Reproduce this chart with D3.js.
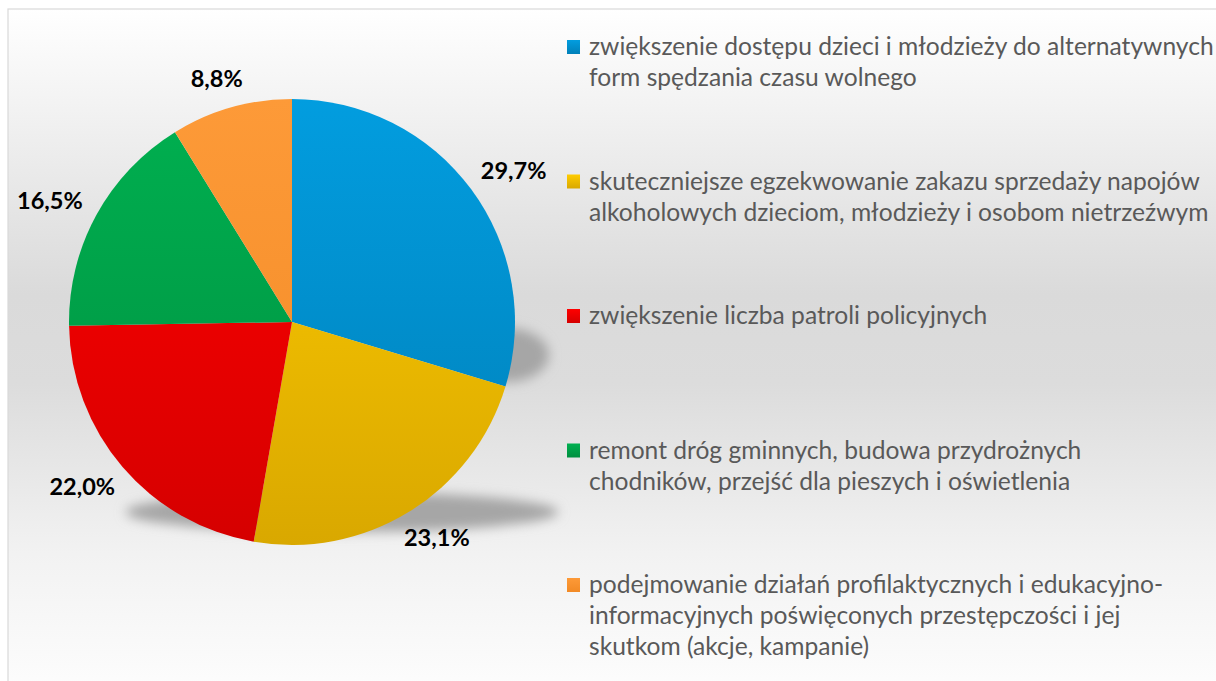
<!DOCTYPE html>
<html>
<head>
<meta charset="utf-8">
<script src="https://cdn.jsdelivr.net/npm/d3@7"></script>
<style>
  html, body { margin: 0; padding: 0; background: #ffffff; }
  svg { display: block; }
</style>
</head>
<body>
<svg id="chart" width="1216" height="681"></svg>
<script>
// Survey answers: share of responses per proposed measure
const categories = [
  ["zwiększenie dostępu dzieci i młodzieży do alternatywnych", "form spędzania czasu wolnego"],
  ["skuteczniejsze egzekwowanie zakazu sprzedaży napojów", "alkoholowych dzieciom, młodzieży i osobom nietrzeźwym"],
  ["zwiększenie liczba patroli policyjnych"],
  ["remont dróg gminnych, budowa przydrożnych", "chodników, przejść dla pieszych i oświetlenia"],
  ["podejmowanie działań profilaktycznych i edukacyjno-", "informacyjnych poświęconych przestępczości i jej", "skutkom (akcje, kampanie)"]
];
const values = [29.7, 23.1, 22.0, 16.5, 8.8];
const colorsTop = ["#029ddf", "#ffcc00", "#ff0000", "#00b050", "#fd9a38"];
const colorsBottom = ["#0080b9", "#d9a800", "#d50000", "#008f40", "#f28a25"];

const W = 1216, H = 681;
const cx = 292, cy = 322, R = 223;

const svg = d3.select("#chart");
const defs = svg.append("defs");

// panel background: white at the edges, grey band through the middle
const bg = defs.append("linearGradient").attr("id", "bg")
  .attr("x1", 0).attr("y1", 0).attr("x2", 0).attr("y2", 1);
bg.append("stop").attr("offset", 0).attr("stop-color", "#ffffff");
bg.append("stop").attr("offset", 0.42).attr("stop-color", "#dadada");
bg.append("stop").attr("offset", 0.55).attr("stop-color", "#dcdcdc");
bg.append("stop").attr("offset", 0.8).attr("stop-color", "#f2f2f2");
bg.append("stop").attr("offset", 1).attr("stop-color", "#fdfdfd");

svg.append("rect").attr("x", 8).attr("y", 9).attr("width", W).attr("height", H)
  .attr("fill", "url(#bg)").attr("stroke", "#d9d9d9").attr("stroke-width", 1.2);

// slice gradients span the pie's own vertical extent; key gradients span each swatch
values.forEach((v, i) => {
  const g = defs.append("linearGradient").attr("id", "slice" + i)
    .attr("gradientUnits", "userSpaceOnUse")
    .attr("x1", 0).attr("y1", -R).attr("x2", 0).attr("y2", R);
  g.append("stop").attr("offset", 0).attr("stop-color", colorsTop[i]);
  g.append("stop").attr("offset", 1).attr("stop-color", colorsBottom[i]);
  const lg = defs.append("linearGradient").attr("id", "key" + i)
    .attr("x1", 0).attr("y1", 0).attr("x2", 0).attr("y2", 1);
  lg.append("stop").attr("offset", 0).attr("stop-color", colorsTop[i]);
  lg.append("stop").attr("offset", 1).attr("stop-color", colorsBottom[i]);
});

// soft drop shadow under the pie
const blur = defs.append("filter").attr("id", "blur")
  .attr("x", "-50%").attr("y", "-50%").attr("width", "200%").attr("height", "200%");
blur.append("feGaussianBlur").attr("stdDeviation", 6);

const shadow = svg.append("g").attr("filter", "url(#blur)").attr("fill", "#a6a6a6");
shadow.append("ellipse").attr("cx", cx + 50).attr("cy", cy + 190)
  .attr("rx", R * 0.97).attr("ry", 20);
shadow.append("ellipse").attr("cx", cx + R - 8).attr("cy", cy + 33)
  .attr("rx", 42).attr("ry", 27);

// pie, clockwise from twelve o'clock
const pie = d3.pie().sort(null).value(d => d)(values);
const arc = d3.arc().innerRadius(0).outerRadius(R);

const g = svg.append("g").attr("transform", `translate(${cx},${cy})`);
g.selectAll("path.slice").data(pie).join("path")
  .attr("class", "slice")
  .attr("d", arc)
  .attr("fill", (d, i) => `url(#slice${i})`);

// value labels outside the slices: anchor on a ring, box pushed outward
const pl = d3.formatLocale({ decimal: ",", thousands: " ", grouping: [3], currency: ["", " zł"] });
const fmt = pl.format(".1f");
const ringR = R + 20, halfW = 33, halfH = 10;

g.append("g").selectAll("text").data(pie).join("text")
  .attr("transform", d => {
    const a = (d.startAngle + d.endAngle) / 2;
    const ux = Math.sin(a), uy = -Math.cos(a);
    return `translate(${ux * ringR + ux * halfW},${uy * ringR + uy * halfH})`;
  })
  .attr("text-anchor", "middle")
  .attr("dy", "0.35em")
  .attr("font-family", "Lato, 'Open Sans', sans-serif")
  .attr("font-weight", 700)
  .attr("font-size", 23.5)
  .attr("fill", "#000000")
  .text(d => fmt(d.data) + "%");

// legend
const legX = 567, textX = 589, firstBase = 55, itemStep = 134.5, lineStep = 31;
const leg = svg.append("g");
categories.forEach((lines, i) => {
  const base = firstBase + i * itemStep;
  leg.append("rect").attr("x", legX).attr("y", base - 15).attr("width", 13).attr("height", 14)
    .attr("fill", `url(#key${i})`);
  const t = leg.append("text")
    .attr("font-family", "Lato, 'Open Sans', sans-serif")
    .attr("font-size", 24.6)
    .attr("fill", "#595959");
  lines.forEach((ln, j) => {
    t.append("tspan").attr("x", textX).attr("y", base + j * lineStep).text(ln);
  });
});
</script>
</body>
</html>
